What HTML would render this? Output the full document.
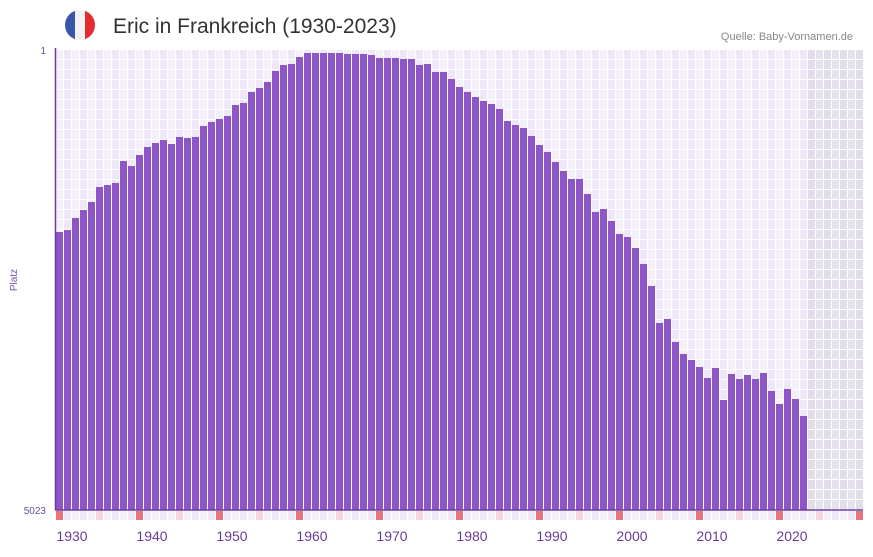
<!DOCTYPE html>
<html><head><meta charset="utf-8"><style>
body{margin:0;background:#fff;width:873px;height:552px;overflow:hidden;font-family:"Liberation Sans",sans-serif}
</style></head><body>
<svg id="s" width="873" height="552" xmlns="http://www.w3.org/2000/svg">
<defs><clipPath id="c"><circle cx="80" cy="25" r="15"/></clipPath></defs>
<g clip-path="url(#c)"><rect x="65" y="10" width="10" height="30" fill="#3a56a8"/><rect x="75" y="10" width="10" height="30" fill="#f2f2f2"/><rect x="85" y="10" width="10" height="30" fill="#e52a30"/></g>
<text x="113" y="33" font-size="21" fill="#333">Eric in Frankreich (1930-2023)</text>
<text x="853" y="40" font-size="11" fill="#888" text-anchor="end">Quelle: Baby-Vornamen.de</text>
<g id="grid"></g><g id="bars"></g>
<line x1="55.5" y1="48" x2="55.5" y2="510" stroke="#6a3d9a" stroke-width="1.5"/>
<line x1="55" y1="510" x2="863" y2="510" stroke="#6a3d9a" stroke-width="1.5"/>
<text x="46" y="54" font-size="10" fill="#6a4d9a" text-anchor="end">1</text>
<text x="46" y="514" font-size="10" fill="#6a4d9a" text-anchor="end">5023</text>
<text x="17" y="280" font-size="10" fill="#7a4db0" text-anchor="middle" transform="rotate(-90 17 280)">Platz</text>
<g font-size="14" fill="#6a3d9a" text-anchor="middle">
<text x="72" y="541">1930</text><text x="152" y="541">1940</text><text x="232" y="541">1950</text><text x="312" y="541">1960</text><text x="392" y="541">1970</text><text x="472" y="541">1980</text><text x="552" y="541">1990</text><text x="632" y="541">2000</text><text x="712" y="541">2010</text><text x="792" y="541">2020</text>
</g>
</svg>
<script>
var ns="http://www.w3.org/2000/svg",g=document.getElementById("grid"),b=document.getElementById("bars");
function r(p,x,y,w,h,f){var e=document.createElementNS(ns,"rect");e.setAttribute("x",x);e.setAttribute("y",y);e.setAttribute("width",w);e.setAttribute("height",h);e.setAttribute("fill",f);p.appendChild(e);}
for(var c=0;c<101;c++){for(var rw=0;rw<46;rw++){var grey=c>=94;var f=grey?(c%2?"#e5e1ee":"#e1dcea"):(c%2?"#ede7f8":"#f3effb");r(g,56+c*8,50+rw*10,7,9,f);}
 var t=c%10==0?"#e8737b":(c%5==0?"#f5d6df":(c%2?"#ede7f8":"#f3effb"));r(g,56+c*8,511,7,9,t);}
var tops=[232,230,218,210,202,187,185,183,161,166,155,147,143,140,144,137,138,137,126,122,119,116,105,103,92,88,82,71,65,64,57,53,53,53,53,53,54,54,54,55,58,58,58,59,59,65,64,72,72,79,87,92,97,101,104,109,121,125,128,136,145,152,162,171,179,179,194,212,209,221,234,237,248,264,286,323,319,342,354,360,367,378,368,400,374,379,375,379,373,391,404,389,399,416];
for(var i=0;i<tops.length;i++)r(b,56+i*8,tops[i],7,510-tops[i],"#8e55c8");
</script>
</body></html>
